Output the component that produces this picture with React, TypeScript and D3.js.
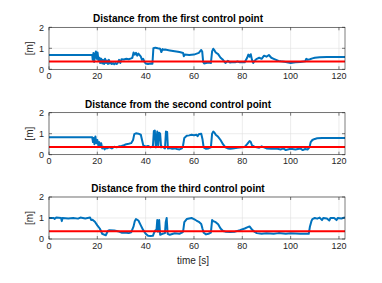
import React from "react";
import * as d3 from "d3";

const xTicks = [0, 20, 40, 60, 80, 100, 120];
const yTicks = [0, 1, 2];
const threshold = 0.37;
const titles = [
  "Distance from the first control point",
  "Distance from the second control point",
  "Distance from the third control point",
];

const first: [number, number][] = [[0,0.68],[17.9,0.68],[18.1,0.45],[18.4,0.78],[18.7,0.35],[19.0,0.6],[19.4,0.85],[19.8,0.5],[20.1,0.8],[20.5,0.4],[20.9,0.55],[21.2,0.3],[21.6,0.5],[22.0,0.28],[22.4,0.45],[22.8,0.25],[23.2,0.5],[23.6,0.3],[24.0,0.42],[24.4,0.25],[24.8,0.45],[25.2,0.28],[25.6,0.35],[26.0,0.25],[26.5,0.3],[27,0.24],[27.5,0.3],[28,0.25],[28.5,0.32],[29,0.45],[29.5,0.3],[30,0.48],[31,0.47],[32,0.5],[33,0.48],[34,0.52],[34.5,0.55],[35,0.8],[35.5,0.7],[36,0.78],[36.5,0.65],[37,0.75],[37.5,0.68],[38,0.6],[38.5,0.45],[39,0.5],[39.5,0.35],[40,0.28],[41,0.25],[42,0.28],[42.8,0.26],[43.2,1.0],[44,1.03],[45,1.0],[46,0.98],[46.5,0.82],[47,0.96],[47.5,0.93],[48,0.94],[50,0.9],[52,0.86],[54,0.82],[55.5,0.78],[55.8,0.62],[56.2,0.7],[58,0.68],[60,0.7],[62,0.78],[63,0.92],[63.4,0.85],[63.8,0.35],[64.2,0.28],[65,0.3],[66,0.32],[67,0.3],[67.5,0.85],[68,0.98],[68.5,0.9],[69,0.8],[70,0.72],[71,0.55],[72,0.45],[73,0.3],[74,0.4],[75,0.32],[76,0.35],[77,0.33],[78,0.37],[79,0.33],[80,0.35],[81,0.34],[82,0.55],[82.5,0.7],[83,0.6],[83.5,0.72],[84,0.45],[84.5,0.3],[85,0.4],[86,0.5],[87,0.55],[88,0.5],[89,0.65],[90,0.6],[91,0.68],[92,0.55],[93,0.5],[94,0.45],[95,0.4],[96,0.38],[98,0.35],[100,0.3],[102,0.33],[104,0.35],[106,0.38],[106.5,0.5],[107,0.45],[108,0.48],[109,0.52],[110,0.55],[112,0.57],[115,0.58],[122.5,0.58]];

const second: [number, number][] = [[0,0.83],[17.9,0.83],[18.2,0.6],[18.5,0.8],[18.8,0.5],[19.2,0.87],[19.6,0.55],[20,0.7],[20.4,0.45],[20.8,0.6],[21.2,0.4],[21.6,0.55],[22,0.3],[22.5,0.38],[23,0.25],[23.5,0.32],[24,0.3],[25,0.35],[26,0.3],[27,0.38],[28,0.35],[29,0.4],[30,0.42],[31,0.45],[32,0.5],[33,0.52],[34,0.55],[34.8,0.7],[35.3,0.98],[36,1.02],[37,1.0],[38,0.95],[38.5,0.7],[39,0.45],[40,0.38],[41,0.42],[42,0.35],[43,0.4],[43.4,1.12],[43.8,1.15],[44.2,0.35],[44.8,1.1],[45.2,0.4],[45.6,1.05],[46,1.0],[46.4,0.35],[47,0.38],[48,0.3],[48.4,1.1],[48.9,1.08],[49.2,0.3],[50,0.32],[51,0.28],[52,0.3],[53,0.27],[54,0.25],[55,0.3],[55.5,0.45],[56,0.8],[57,0.9],[58,0.92],[59,0.95],[60,0.93],[61,0.95],[61.5,0.88],[62,0.97],[63,1.0],[63.5,0.75],[64,0.35],[65,0.28],[66,0.3],[67,0.35],[67.5,1.0],[68,1.1],[68.5,1.05],[69,0.95],[70,0.85],[71,0.7],[72,0.5],[73,0.35],[74,0.3],[75,0.28],[76,0.3],[78,0.33],[80,0.35],[81,0.37],[82,0.5],[83,0.65],[83.5,0.6],[84,0.45],[85,0.38],[86,0.35],[87,0.33],[88,0.4],[89,0.35],[90,0.3],[92,0.28],[94,0.3],[96,0.25],[97,0.3],[98,0.22],[100,0.28],[102,0.25],[104,0.3],[105,0.22],[106,0.27],[107,0.25],[107.8,0.35],[108.3,0.6],[109,0.7],[110,0.75],[111,0.78],[113,0.8],[116,0.8],[122.5,0.8]];

const third: [number, number][] = [[0,1.0],[2,1.0],[2.3,0.95],[3,1.02],[5,1.0],[5.3,0.85],[5.6,1.0],[8,0.98],[10,1.0],[12,0.97],[13,1.02],[15,0.98],[16,1.0],[17,1.02],[17.5,0.9],[18,0.92],[19,0.82],[20,0.65],[21,0.5],[21.5,0.38],[22,0.25],[23,0.2],[23.5,0.18],[24,0.3],[24.5,0.4],[25,0.42],[27,0.4],[28,0.38],[29,0.35],[30,0.3],[32,0.3],[33,0.28],[34,0.32],[35,0.6],[35.5,0.85],[36,0.95],[37,0.88],[38,0.65],[39,0.42],[40,0.25],[41,0.15],[42,0.14],[43,0.15],[43.5,0.3],[44,0.4],[44.5,0.45],[44.8,0.9],[45.1,0.35],[45.6,0.9],[46,0.2],[47,0.25],[48,0.28],[48.3,0.8],[48.7,1.0],[49.1,0.25],[50,0.2],[52,0.27],[54,0.25],[55,0.3],[55.5,0.35],[56,0.8],[57,0.95],[58,0.98],[59,1.0],[60,0.95],[61,0.88],[62,0.82],[63,0.72],[63.5,0.5],[64,0.3],[65,0.22],[66,0.25],[67,0.3],[67.5,0.9],[68,0.85],[69,0.8],[70,0.7],[71,0.5],[72,0.38],[73,0.35],[75,0.33],[77,0.35],[79,0.42],[81,0.5],[82,0.55],[83,0.6],[84,0.45],[85,0.35],[86,0.28],[88,0.25],[90,0.27],[93,0.25],[95,0.28],[98,0.25],[100,0.27],[102,0.26],[104,0.25],[106,0.25],[107.5,0.25],[108,0.6],[108.6,0.85],[109,0.95],[110,1.0],[111,0.97],[112,1.02],[113,0.9],[113.5,1.0],[115,0.98],[116,0.88],[116.5,1.0],[118,1.0],[119,0.9],[119.5,1.0],[121,0.98],[122.5,1.02]];

const series = [first, second, third];

const W = 382, H = 283;
const left = 49, right = 345, ph = 42;
const tops = [27.3, 112.7, 197];
const axisColor = "#262626";
const font = "'Liberation Sans', Arial, Helvetica, sans-serif";

const x = d3.scaleLinear().domain([0, 122.5]).range([left, right]);

function Panel({ idx }: { idx: number }) {
  const top = tops[idx];
  const y = d3.scaleLinear().domain([0, 2]).range([top + ph, top]);
  const line = d3.line<[number, number]>().x(d => x(d[0])).y(d => y(d[1]));
  const clipId = `clip${idx}`;
  return (
    <g>
      <defs>
        <clipPath id={clipId}>
          <rect x={left} y={top} width={right - left} height={ph} />
        </clipPath>
      </defs>
      <rect x={left} y={top} width={right - left} height={ph} fill="#fff" />
      {xTicks.map(t => (
        <line key={"gx" + t} x1={x(t)} x2={x(t)} y1={top} y2={top + ph} stroke="#dfdfdf" strokeWidth={0.6} />
      ))}
      {yTicks.map(t => (
        <line key={"gy" + t} x1={left} x2={right} y1={y(t)} y2={y(t)} stroke="#dfdfdf" strokeWidth={0.6} />
      ))}
      <g clipPath={`url(#${clipId})`}>
        <path d={line(series[idx]) || ""} fill="none" stroke="#0072BD" strokeWidth={2} strokeLinejoin="round" />
        <line x1={left} x2={right} y1={y(threshold)} y2={y(threshold)} stroke="#ff0000" strokeWidth={2} />
      </g>
      <rect x={left} y={top} width={right - left} height={ph} fill="none" stroke={axisColor} strokeWidth={0.6} />
      {xTicks.map(t => (
        <g key={"tx" + t}>
          <line x1={x(t)} x2={x(t)} y1={top + ph} y2={top + ph - 3} stroke={axisColor} strokeWidth={0.6} />
          <line x1={x(t)} x2={x(t)} y1={top} y2={top + 3} stroke={axisColor} strokeWidth={0.6} />
          <text x={x(t)} y={top + ph + 9.5} textAnchor="middle" fontSize={9} fill={axisColor} fontFamily={font}>{t}</text>
        </g>
      ))}
      {yTicks.map(t => (
        <g key={"ty" + t}>
          <line x1={left} x2={left + 3} y1={y(t)} y2={y(t)} stroke={axisColor} strokeWidth={0.6} />
          <line x1={right} x2={right - 3} y1={y(t)} y2={y(t)} stroke={axisColor} strokeWidth={0.6} />
          <text x={left - 5} y={y(t) + 3.2} textAnchor="end" fontSize={9} fill={axisColor} fontFamily={font}>{t}</text>
        </g>
      ))}
      <text transform={`translate(32.5,${top + ph / 2}) rotate(-90)`} textAnchor="middle" fontSize={10} fill={axisColor} fontFamily={font}>[m]</text>
      <text x={178} y={top - 5} textAnchor="middle" fontSize={10} fontWeight="bold" fill="#000" fontFamily={font}>{titles[idx]}</text>
    </g>
  );
}

export default function App() {
  return (
    <svg width={W} height={H} style={{ position: "absolute", left: 0, top: 0, background: "#fff" }}>
      <rect width={W} height={H} fill="#fff" />
      {[0, 1, 2].map(i => <Panel key={i} idx={i} />)}
      <text x={193} y={264} textAnchor="middle" fontSize={10} fill={axisColor} fontFamily={font}>time [s]</text>
    </svg>
  );
}
